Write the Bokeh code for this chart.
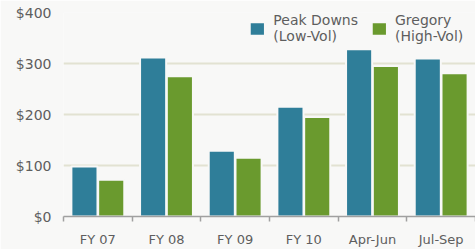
import numpy as np
from bokeh.plotting import figure
from bokeh.models import (ColumnDataSource, Legend, LegendItem, NumeralTickFormatter,
                          FixedTicker, Range1d)
from bokeh.transform import dodge
from bokeh.embed import file_html
from bokeh.resources import INLINE

categories = ["FY 07", "FY 08", "FY 09", "FY 10", "Apr-Jun", "Jul-Sep"]
peak_downs = [98, 312, 129, 215, 328, 310]
gregory = [72, 275, 115, 195, 295, 281]
series_labels = ["Peak Downs\n(Low-Vol)", "Gregory\n(High-Vol)"]
y_ticks = [0, 100, 200, 300, 400]

BG = "#f8f8f7"
BLUE = "#2f7e99"
GREEN = "#6a9a2e"
TXT = "#5e5e5e"
FONT = "DejaVu Sans"

idx = np.arange(len(categories))
centers = idx + 0.5
src = ColumnDataSource(dict(x=centers, pd=peak_downs, gr=gregory))

p = figure(x_range=Range1d(0, 6), y_range=Range1d(0, 400),
           width=475, height=249, output_backend="svg", toolbar_location=None,
           min_border_left=63, min_border_right=0, min_border_top=12, min_border_bottom=32,
           background_fill_color=BG, border_fill_color=BG, outline_line_color=None)

r1 = p.vbar(x=dodge("x", -0.195), top="pd", width=0.38, source=src,
            fill_color=BLUE, line_color=BG, line_width=2)
r2 = p.vbar(x=dodge("x", 0.195), top="gr", width=0.38, source=src,
            fill_color=GREEN, line_color=BG, line_width=2)

p.yaxis.ticker = FixedTicker(ticks=y_ticks)
p.yaxis.formatter = NumeralTickFormatter(format="$0")
p.yaxis.axis_line_color = None
p.yaxis.major_tick_line_color = None
p.yaxis.minor_tick_line_color = None
p.yaxis.major_label_text_font = FONT
p.yaxis.major_label_text_font_size = "14px"
p.yaxis.major_label_text_color = TXT
p.yaxis.major_label_standoff = 6

p.xaxis.ticker = FixedTicker(ticks=list(centers), minor_ticks=list(np.arange(len(categories) + 1)))
p.xaxis.major_label_overrides = {float(c): lab for c, lab in zip(centers, categories)}
p.xaxis.axis_line_color = "#a0a0a0"
p.xaxis.axis_line_width = 1.5
p.xaxis.major_tick_line_color = None
p.xaxis.minor_tick_line_color = "#a0a0a0"
p.xaxis.minor_tick_line_width = 1.5
p.xaxis.minor_tick_in = 0
p.xaxis.minor_tick_out = 5
p.xaxis.major_label_text_font = FONT
p.xaxis.major_label_text_font_size = "13px"
p.xaxis.major_label_text_color = TXT
p.xaxis.major_label_standoff = 9

p.xgrid.grid_line_color = None
p.ygrid.grid_line_color = "#e2e2d2"
p.ygrid.grid_line_width = 2

legend = Legend(items=[LegendItem(label=series_labels[0], renderers=[r1]),
                       LegendItem(label=series_labels[1], renderers=[r2])],
                orientation="horizontal", location="top_right",
                background_fill_alpha=0, border_line_color=None,
                label_text_font=FONT, label_text_font_size="14px",
                label_text_color=TXT, label_text_line_height=1.35,
                glyph_width=19, glyph_height=17, label_width=80,
                spacing=11, margin=0, padding=2, label_standoff=7)
p.add_layout(legend)

open("out.html", "w").write(file_html(p, INLINE))
